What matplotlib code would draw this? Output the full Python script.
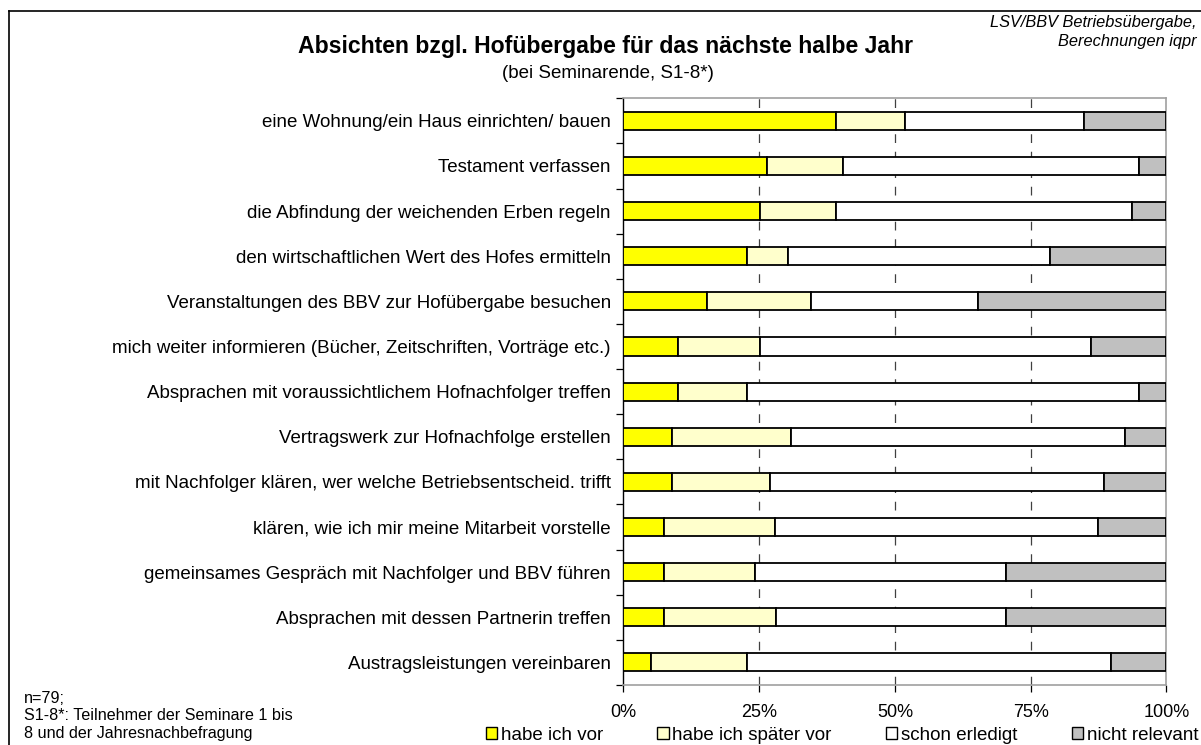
import matplotlib
matplotlib.use('Agg')
import matplotlib.pyplot as plt
from matplotlib.patches import Patch
from matplotlib.lines import Line2D
import numpy as np

plt.rcParams['font.family'] = ['Liberation Sans', 'DejaVu Sans']

# answer items (top to bottom)
categories = [
    'eine Wohnung/ein Haus einrichten/ bauen',
    'Testament verfassen',
    'die Abfindung der weichenden Erben regeln',
    'den wirtschaftlichen Wert des Hofes ermitteln',
    'Veranstaltungen des BBV zur Hofübergabe besuchen',
    'mich weiter informieren (Bücher, Zeitschriften, Vorträge etc.)',
    'Absprachen mit voraussichtlichem Hofnachfolger treffen',
    'Vertragswerk zur Hofnachfolge erstellen',
    'mit Nachfolger klären, wer welche Betriebsentscheid. trifft',
    'klären, wie ich mir meine Mitarbeit vorstelle',
    'gemeinsames Gespräch mit Nachfolger und BBV führen',
    'Absprachen mit dessen Partnerin treffen',
    'Austragsleistungen vereinbaren',
]

# shares in percent
habe_vor = [39.2, 26.5, 25.2, 22.7, 15.3, 10.0, 10.0, 8.9, 8.9, 7.5, 7.5, 7.5, 5.0]
spaeter_vor = [12.6, 14.0, 14.0, 7.6, 19.3, 15.2, 12.7, 21.9, 18.0, 20.4, 16.8, 20.6, 17.7]
erledigt = [33.0, 54.5, 54.5, 48.2, 30.7, 60.9, 72.3, 61.5, 61.6, 59.5, 46.2, 42.4, 67.2]
nicht_relevant = [15.2, 5.0, 6.3, 21.5, 34.7, 13.9, 5.0, 7.7, 11.5, 12.6, 29.5, 29.5, 10.1]

series = [
    ('habe ich vor', habe_vor, '#ffff00'),
    ('habe ich später vor', spaeter_vor, '#ffffcc'),
    ('schon erledigt', erledigt, '#ffffff'),
    ('nicht relevant', nicht_relevant, '#c0c0c0'),
]

W, H = 1201, 745
fig = plt.figure(figsize=(W / 100, H / 100), dpi=100)
ax = fig.add_axes([623.5 / W, 1 - 685 / H, (1166.3 - 623.5) / W, (685 - 98.3) / H])

y = np.arange(len(categories))
left = np.zeros(len(categories))
for name, vals, col in series:
    vals = np.array(vals)
    ax.barh(y, vals, left=left, height=0.4, color=col, edgecolor='black',
            linewidth=1.3, zorder=3, label=name)
    left += vals

ax.set_xlim(0, 100)
ax.set_ylim(len(categories) - 0.5, -0.5)

# dashed grid lines
for g in [25, 50, 75]:
    ax.axvline(g, color='#404040', linewidth=0.9, linestyle=(0, (7, 7)), zorder=1)

ax.set_xticks([0, 25, 50, 75, 100])
ax.set_xticklabels(['0%', '25%', '50%', '75%', '100%'], fontsize=13)
ax.tick_params(axis='x', length=5, width=0.9, color='black', pad=9)

# y ticks at category boundaries, labels at centres
ax.set_yticks(np.arange(-0.5, len(categories), 1.0))
ax.set_yticklabels([])
ax.set_yticks(y, minor=True)
ax.set_yticklabels(categories, minor=True, fontsize=13.5)
ax.tick_params(axis='y', which='major', length=5, width=0.9)
ax.tick_params(axis='y', which='minor', length=0, pad=9)

for s in ['top', 'right', 'bottom']:
    ax.spines[s].set_color('#a0a0a0')
    ax.spines[s].set_linewidth(1.2)
ax.spines['left'].set_color('black')
ax.spines['left'].set_linewidth(1.0)

# titles
fig.text(605 / W, 1 - 46 / H, 'Absichten bzgl. Hofübergabe für das nächste halbe Jahr',
         ha='center', va='center', fontsize=16.6, fontweight='bold')
fig.text(608 / W, 1 - 73 / H, '(bei Seminarende, S1-8*)', ha='center', va='center', fontsize=13.5)
fig.text(1197 / W, 1 - 15 / H, 'LSV/BBV Betriebsübergabe,\nBerechnungen iqpr', ha='right', va='top',
         fontsize=11.8, style='italic', linespacing=1.35)

# notes
fig.text(24 / W, 1 - 691 / H, 'n=79;\nS1-8*: Teilnehmer der Seminare 1 bis\n8 und der Jahresnachbefragung',
         ha='left', va='top', fontsize=11.6, linespacing=1.2)

# frame lines
fig.add_artist(Line2D([8.5 / W, 1.0], [1 - 10.5 / H, 1 - 10.5 / H], color='black', linewidth=1.2))
fig.add_artist(Line2D([8.5 / W, 8.5 / W], [0, 1 - 10.5 / H], color='black', linewidth=1.2))

handles = [Patch(facecolor=c, edgecolor='black', linewidth=1.0) for _, _, c in series]
fig.legend(handles, [n for n, _, _ in series], loc='center', bbox_to_anchor=(842 / W, 1 - 735 / H),
           ncol=4, frameon=False, fontsize=13.5, handlelength=0.6, handleheight=0.6,
           handletextpad=0.2, columnspacing=2.9, borderpad=0)

fig.savefig('out.png', dpi=100)
